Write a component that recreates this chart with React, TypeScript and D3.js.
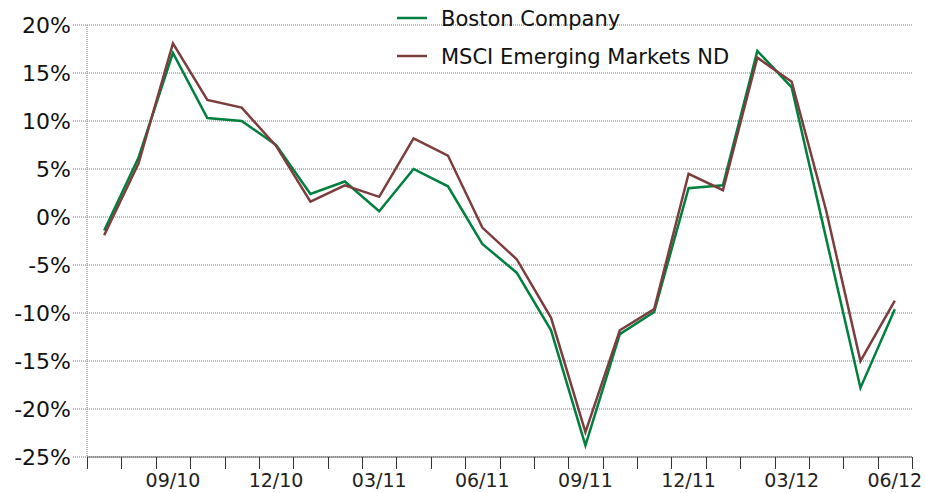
import React, { useEffect, useRef } from "react";
import * as d3 from "d3";

const months = [
  "07/10", "08/10", "09/10", "10/10", "11/10", "12/10",
  "01/11", "02/11", "03/11", "04/11", "05/11", "06/11",
  "07/11", "08/11", "09/11", "10/11", "11/11", "12/11",
  "01/12", "02/12", "03/12", "04/12", "05/12", "06/12",
];
const boston = [
  -1.4, 6.2, 17.1, 10.3, 10.0, 7.5, 2.4, 3.7, 0.6, 5.0, 3.2, -2.8,
  -5.8, -11.8, -23.8, -12.2, -9.9, 3.0, 3.3, 17.3, 13.5, -2.2, -17.8, -9.6,
];
const msci = [
  -1.9, 5.6, 18.1, 12.2, 11.4, 7.4, 1.6, 3.3, 2.1, 8.2, 6.4, -1.1,
  -4.4, -10.5, -22.4, -11.8, -9.6, 4.5, 2.8, 16.6, 14.1, 0.7, -15.0, -8.7,
];
const yTicks = [20, 15, 10, 5, 0, -5, -10, -15, -20, -25];
const labelMonths = ["09/10", "12/10", "03/11", "06/11", "09/11", "12/11", "03/12", "06/12"];

const series = [
  { name: "Boston Company", values: boston, color: "#007f3e" },
  { name: "MSCI Emerging Markets ND", values: msci, color: "#7c3d3d" },
];

const WIDTH = 925;
const HEIGHT = 493;
const FONT = "'DejaVu Sans', Verdana, sans-serif";

export default function App() {
  const svgRef = useRef<SVGSVGElement>(null);

  useEffect(() => {
    const svg = d3.select(svgRef.current);
    svg.selectAll("*").remove();

    const x = d3.scaleBand<string>().domain(months).range([87, 912]).padding(0);
    const y = d3.scaleLinear().domain([-25, 20]).range([457, 25]);
    const cx = (m: string) => (x(m) as number) + x.bandwidth() / 2;

    // horizontal grid
    svg
      .append("g")
      .selectAll("line")
      .data(yTicks)
      .join("line")
      .attr("x1", 73)
      .attr("x2", 912)
      .attr("y1", (d) => y(d))
      .attr("y2", (d) => y(d))
      .attr("stroke", "#b8b8b8")
      .attr("stroke-width", 2)
      .attr("stroke-dasharray", "1,1");

    // left dotted axis
    svg
      .append("line")
      .attr("x1", 87)
      .attr("x2", 87)
      .attr("y1", y(20))
      .attr("y2", y(-25))
      .attr("stroke", "#b8b8b8")
      .attr("stroke-width", 2)
      .attr("stroke-dasharray", "1,1");

    // y labels
    svg
      .append("g")
      .selectAll("text")
      .data(yTicks)
      .join("text")
      .attr("x", 71)
      .attr("y", (d) => y(d) + 8)
      .attr("text-anchor", "end")
      .attr("font-family", FONT)
      .attr("font-size", 22)
      .attr("fill", "#111")
      .text((d) => `${d}%`);

    // x axis line + ticks
    svg
      .append("line")
      .attr("x1", 87)
      .attr("x2", 912)
      .attr("y1", y(-25))
      .attr("y2", y(-25))
      .attr("stroke", "#666")
      .attr("stroke-width", 1);

    const tickPos = months.map((m) => x(m) as number).concat([912]);
    svg
      .append("g")
      .selectAll("line")
      .data(tickPos)
      .join("line")
      .attr("x1", (d) => Math.round(d) + 0.5)
      .attr("x2", (d) => Math.round(d) + 0.5)
      .attr("y1", y(-25))
      .attr("y2", y(-25) + 12)
      .attr("stroke", "#333")
      .attr("stroke-width", 1);

    svg
      .append("g")
      .selectAll("text")
      .data(labelMonths)
      .join("text")
      .attr("x", (d) => cx(d))
      .attr("y", 487)
      .attr("text-anchor", "middle")
      .attr("font-family", FONT)
      .attr("font-size", 19)
      .attr("fill", "#222")
      .text((d) => d);

    // lines
    const line = d3
      .line<number>()
      .x((_, i) => cx(months[i]))
      .y((d) => y(d));

    svg
      .append("g")
      .selectAll("path")
      .data(series)
      .join("path")
      .attr("d", (s) => line(s.values))
      .attr("fill", "none")
      .attr("stroke", (s) => s.color)
      .attr("stroke-width", 2.5)
      .attr("stroke-linejoin", "miter");

    // legend
    const legend = svg
      .append("g")
      .selectAll("g")
      .data(series)
      .join("g")
      .attr("transform", (_, i) => `translate(397,${18 + i * 38})`);
    legend
      .append("line")
      .attr("x1", 0)
      .attr("x2", 30)
      .attr("stroke", (s) => s.color)
      .attr("stroke-width", 2.5);
    legend
      .append("text")
      .attr("x", 44)
      .attr("y", 8)
      .attr("font-family", FONT)
      .attr("font-size", 21)
      .attr("fill", "#111")
      .text((s) => s.name);
  }, []);

  return (
    <svg
      ref={svgRef}
      width={WIDTH}
      height={HEIGHT}
      style={{ position: "absolute", left: 0, top: 0, background: "#fff" }}
    />
  );
}
